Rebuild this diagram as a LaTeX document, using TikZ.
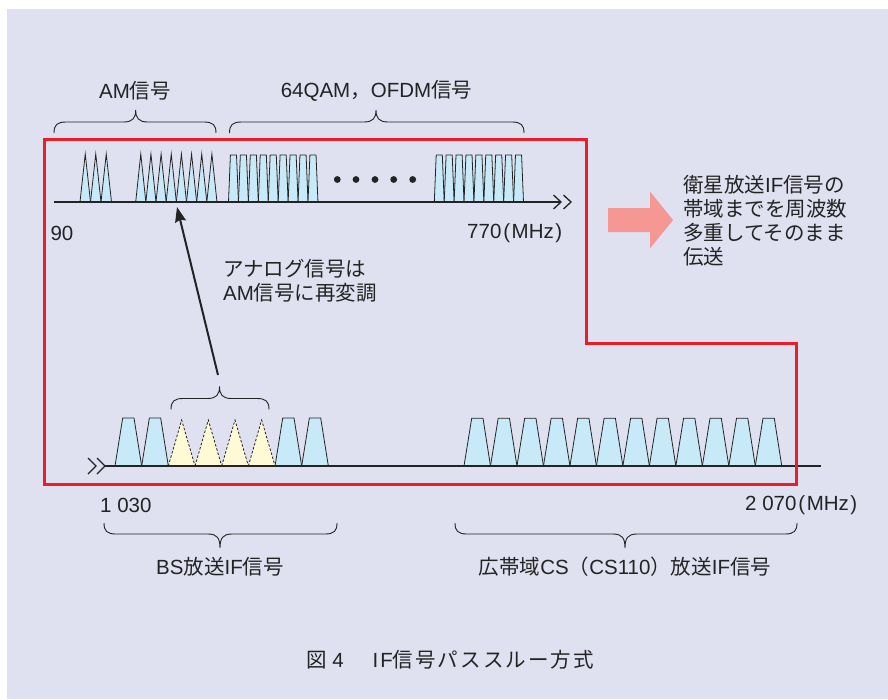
\documentclass[tikz,border=0pt]{standalone}
\usepackage{fontspec}
\setmainfont{Liberation Sans}
\newfontfamily\jp{Noto Sans CJK JP}
\newfontfamily\jpsp{Noto Sans CJK JP}[LetterSpace=10]
\usetikzlibrary{arrows.meta}
\definecolor{bg}{RGB}{223,225,240}
\definecolor{sig}{RGB}{200,234,248}
\definecolor{ana}{RGB}{255,250,214}
\definecolor{rbox}{RGB}{234,30,40}
\definecolor{pinkarr}{RGB}{245,152,148}
\definecolor{ink}{RGB}{35,35,35}
\tikzset{
  sigshape/.style={fill=sig, draw=ink, line width=0.8pt, line join=miter},
  anashape/.style={fill=ana, draw=none},
  anaedge/.style={draw=ink, line width=0.8pt, dash pattern=on 2.5pt off 1.8pt},
  axisline/.style={draw=ink, line width=1.8pt},
  chev/.style={draw=ink, line width=1.3pt},
  bracestyle/.style={draw=ink, line width=0.9pt},
  lbl/.style={font=\fontsize{20.5}{24}\selectfont, text=ink, inner sep=0pt},
  redbox/.style={draw=rbox, line width=3pt, line join=miter},
}
\newcommand{\UpBrace}[4]{%
  \draw[bracestyle] (#1,#4) .. controls (#1,{#4-8}) and ({#1+3},{#4-11}) .. ({#1+12},{#4-11})
    -- ({#3-12},{#4-11}) .. controls ({#3-3},{#4-11}) and (#3,{#4-15}) .. (#3,{#4-23})
    .. controls (#3,{#4-15}) and ({#3+3},{#4-11}) .. ({#3+12},{#4-11})
    -- ({#2-12},{#4-11}) .. controls ({#2-3},{#4-11}) and (#2,{#4-8}) .. (#2,#4);}
\newcommand{\DownBrace}[4]{%
  \draw[bracestyle] (#1,#4) .. controls (#1,{#4+8}) and ({#1+3},{#4+11}) .. ({#1+12},{#4+11})
    -- ({#3-12},{#4+11}) .. controls ({#3-3},{#4+11}) and (#3,{#4+15}) .. (#3,{#4+25})
    .. controls (#3,{#4+15}) and ({#3+3},{#4+11}) .. ({#3+12},{#4+11})
    -- ({#2-12},{#4+11}) .. controls ({#2-3},{#4+11}) and (#2,{#4+8}) .. (#2,#4);}
\begin{document}
\begin{tikzpicture}[x=1pt,y=-1pt]
\useasboundingbox (0,0) rectangle (888,699);
\fill[white] (0,0) rectangle (888,699);
\fill[bg] (7,9) rectangle (888,699);

% ---- top spectrum ----
\foreach \i in {0,1,2}
  \path[sigshape] ({80+10.5*\i},202) -- ({85.25+10.5*\i},154) -- ({90.5+10.5*\i},202) -- cycle;
\foreach \i in {0,...,7}
  \path[sigshape] ({135.7+10.16*\i},202) -- ({140.78+10.16*\i},154) -- ({145.86+10.16*\i},202) -- cycle;
\foreach \i in {0,...,8}
  \path[sigshape] ({228.5+9.94*\i},202) -- ({230.4+9.94*\i},155) -- ({236.5+9.94*\i},155) -- ({238.44+9.94*\i},202) -- cycle;
\foreach \i in {0,...,8}
  \path[sigshape] ({434.3+9.91*\i},202) -- ({436.2+9.91*\i},155) -- ({442.3+9.91*\i},155) -- ({444.21+9.91*\i},202) -- cycle;
\foreach \x in {337.3,356,375,393.7,412.7}
  \fill[ink] (\x,179.5) circle (3.4);

\coordinate (tA) at (54,202);
\coordinate (tB) at (561,202);
\draw[axisline] (tA) -- (tB);
\draw[chev] (553.5,195) -- (561,202) -- (553.5,209);
\draw[chev] (563.5,195) -- (571,202) -- (563.5,209);

% ---- bottom spectrum ----
\foreach \k in {0,1,6,7}
  \path[sigshape] ({115+26.67*\k},466) -- ({122.7+26.67*\k},418) -- ({134+26.67*\k},418) -- ({141.67+26.67*\k},466) -- cycle;
\foreach \k in {2,...,5} {
  \path[anashape] ({115+26.67*\k},466) -- ({128.3+26.67*\k},420) -- ({141.67+26.67*\k},466) -- cycle;
  \draw[anaedge] ({115+26.67*\k},466) -- ({128.3+26.67*\k},420) -- ({141.67+26.67*\k},466);
}
\foreach \k in {0,...,11}
  \path[sigshape] ({464+26.48*\k},466) -- ({471.7+26.48*\k},418.3) -- ({483+26.48*\k},418.3) -- ({490.48+26.48*\k},466) -- cycle;

\coordinate (bA) at (105,466);
\coordinate (bB) at (821,466);
\draw[axisline] (bA) -- (bB);
\draw[chev] (88,458) -- (96,466) -- (88,474);
\draw[chev] (97,458) -- (105,466) -- (97,474);

% ---- braces ----
\UpBrace{54}{216}{135.7}{133}
\UpBrace{229.5}{524}{376}{133}
\UpBrace{171}{269}{219.5}{409.5}
\DownBrace{104}{337}{220}{523}
\DownBrace{455}{797}{625}{523}

% ---- red box ----
\draw[redbox] (44.5,139.5) -- (586.5,139.5) -- (586.5,343) -- (796.5,343) -- (796.5,484.5) -- (44.5,484.5) -- cycle;

% ---- remodulation arrow ----
\coordinate (remodFrom) at (218,375);
\coordinate (remodTo) at (177,207);
\draw[draw=ink, line width=2pt, -{Stealth[length=15pt,width=11pt,inset=2pt]}] (remodFrom) -- (remodTo);

% ---- pink arrow ----
\fill[pinkarr] (608,208) -- (650,208) -- (650,191.5) -- (673,220) -- (650,248.5) -- (650,232) -- (608,232) -- cycle;

% ---- labels ----
\node[lbl] (amlbl) at (135,91) {AM{\jp 信号}};
\node[lbl] (qamlbl) at (376.5,91) {64QAM{\jp ，}OFDM{\jp 信号}};
\node[lbl] (f90) at (62,233) {90};
\node[lbl, anchor=west] (f770) at (467,233) {770\kern2pt(\kern1.5pt MHz\kern1.5pt)};
\node[lbl, anchor=north west, align=left] (pass) at (683,175) {{\jp 衛星放送}IF{\jp 信号の}\\{\jp 帯域までを周波数}\\{\jp 多重してそのまま}\\{\jp 伝送}};
\node[lbl, anchor=north west, align=left] (remod) at (223,259) {{\jp アナログ信号は}\\AM{\jp 信号に再変調}};
\node[lbl, anchor=west] (f1030) at (100,505) {1 030};
\node[lbl, anchor=west] (f2070) at (745,505) {2 070\kern2pt(\kern1.5pt MHz\kern1.5pt)};
\node[lbl] (bslbl) at (220,567) {BS{\jp 放送}IF{\jp 信号}};
\node[lbl] (cslbl) at (625,567) {{\jp 広帯域}CS{\jp （}CS110{\jp ）放送}IF{\jp 信号}};
\node[lbl] (cap) at (450,660) {{\jp 図} 4\hspace{1.4em}I\kern2pt F{\jpsp 信号パススルー方式}};
\end{tikzpicture}
\end{document}
